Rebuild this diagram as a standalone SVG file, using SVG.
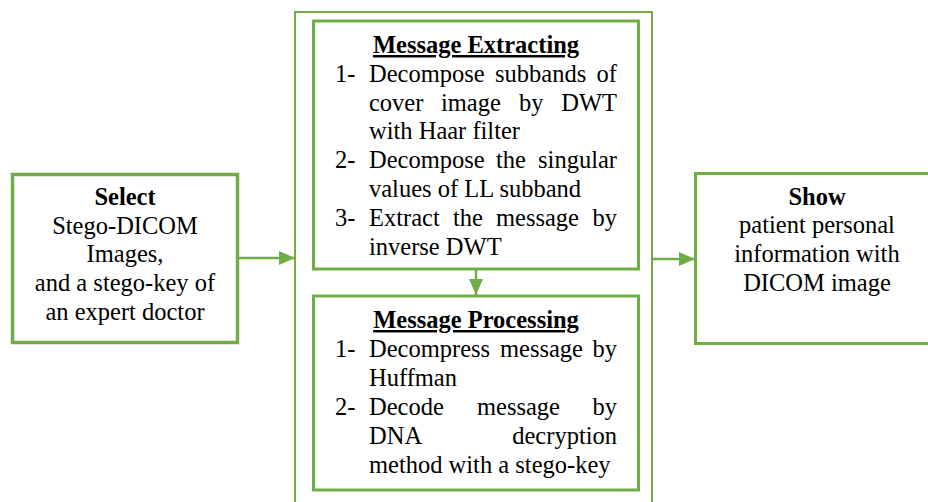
<svg xmlns="http://www.w3.org/2000/svg" width="928" height="502" viewBox="0 0 928 502">
<style>
.box{fill:#fff;stroke:#70AD47}
.t{font-family:"Liberation Serif","Times New Roman",serif;font-size:24.5px;fill:#000}
.b{font-weight:bold}
.u{text-decoration:underline}
.c{text-anchor:middle}
.e{text-anchor:end}
.conn{stroke:#70AD47;stroke-width:2.5;fill:none}
</style>
<defs>
<marker id="ah" markerUnits="userSpaceOnUse" markerWidth="16" markerHeight="14" refX="16" refY="7" orient="auto">
<path d="M0,0 L16,7 L0,14 Z" fill="#70AD47"/>
</marker>
</defs>
<rect width="928" height="502" fill="#fff"/>

<g id="container">
<rect class="box" x="295" y="12" width="357" height="500" stroke-width="2"/>
</g>

<g id="select">
<rect class="box" x="12.5" y="174.5" width="225" height="168" stroke-width="3.5"/>
<text class="t c b" x="125" y="205">Select</text>
<text class="t c" x="125" y="234">Stego-DICOM</text>
<text class="t c" x="125" y="262">Images,</text>
<text class="t c" x="125" y="291">and a stego-key of</text>
<text class="t c" x="125" y="320">an expert doctor</text>
</g>

<g id="extracting">
<rect class="box" x="313.5" y="21" width="325" height="248" stroke-width="3"/>
<text class="t c b u" x="476" y="53">Message Extracting</text>
<text class="t" x="335" y="82">1-</text>
<text class="t" x="369" y="82">Decompose</text>
<text class="t" x="495" y="82">subbands</text>
<text class="t e" x="617" y="82">of</text>
<text class="t" x="369" y="111">cover</text>
<text class="t" x="441" y="111">image</text>
<text class="t" x="519" y="111">by</text>
<text class="t e" x="617" y="111">DWT</text>
<text class="t" x="369" y="139">with Haar filter</text>
<text class="t" x="335" y="168">2-</text>
<text class="t" x="369" y="168">Decompose</text>
<text class="t" x="496" y="168">the</text>
<text class="t e" x="617" y="168">singular</text>
<text class="t" x="369" y="197">values of LL subband</text>
<text class="t" x="335" y="226">3-</text>
<text class="t" x="369" y="226">Extract</text>
<text class="t" x="453" y="226">the</text>
<text class="t" x="496" y="226">message</text>
<text class="t e" x="617" y="226">by</text>
<text class="t" x="369" y="255">inverse DWT</text>
</g>

<g id="processing">
<rect class="box" x="313.5" y="296" width="325" height="194" stroke-width="3"/>
<text class="t c b u" x="476" y="328">Message Processing</text>
<text class="t" x="335" y="357">1-</text>
<text class="t" x="369" y="357">Decompress</text>
<text class="t" x="500" y="357">message</text>
<text class="t e" x="617" y="357">by</text>
<text class="t" x="369" y="386">Huffman</text>
<text class="t" x="335" y="415">2-</text>
<text class="t" x="369" y="415">Decode</text>
<text class="t" x="477" y="415">message</text>
<text class="t e" x="617" y="415">by</text>
<text class="t" x="369" y="444">DNA</text>
<text class="t e" x="617" y="444">decryption</text>
<text class="t" x="369" y="473">method with a stego-key</text>
</g>

<g id="show">
<rect class="box" x="695.5" y="173.5" width="250" height="170" stroke-width="3"/>
<text class="t c b" x="817" y="205">Show</text>
<text class="t c" x="817" y="233">patient personal</text>
<text class="t c" x="817" y="262">information with</text>
<text class="t c" x="817" y="291">DICOM image</text>
</g>

<g id="connectors">
<line class="conn" x1="239" y1="258" x2="295" y2="258" marker-end="url(#ah)"/>
<line class="conn" x1="476" y1="270" x2="476" y2="295" marker-end="url(#ah)"/>
<line class="conn" x1="652" y1="259" x2="695" y2="259" marker-end="url(#ah)"/>
</g>
</svg>
